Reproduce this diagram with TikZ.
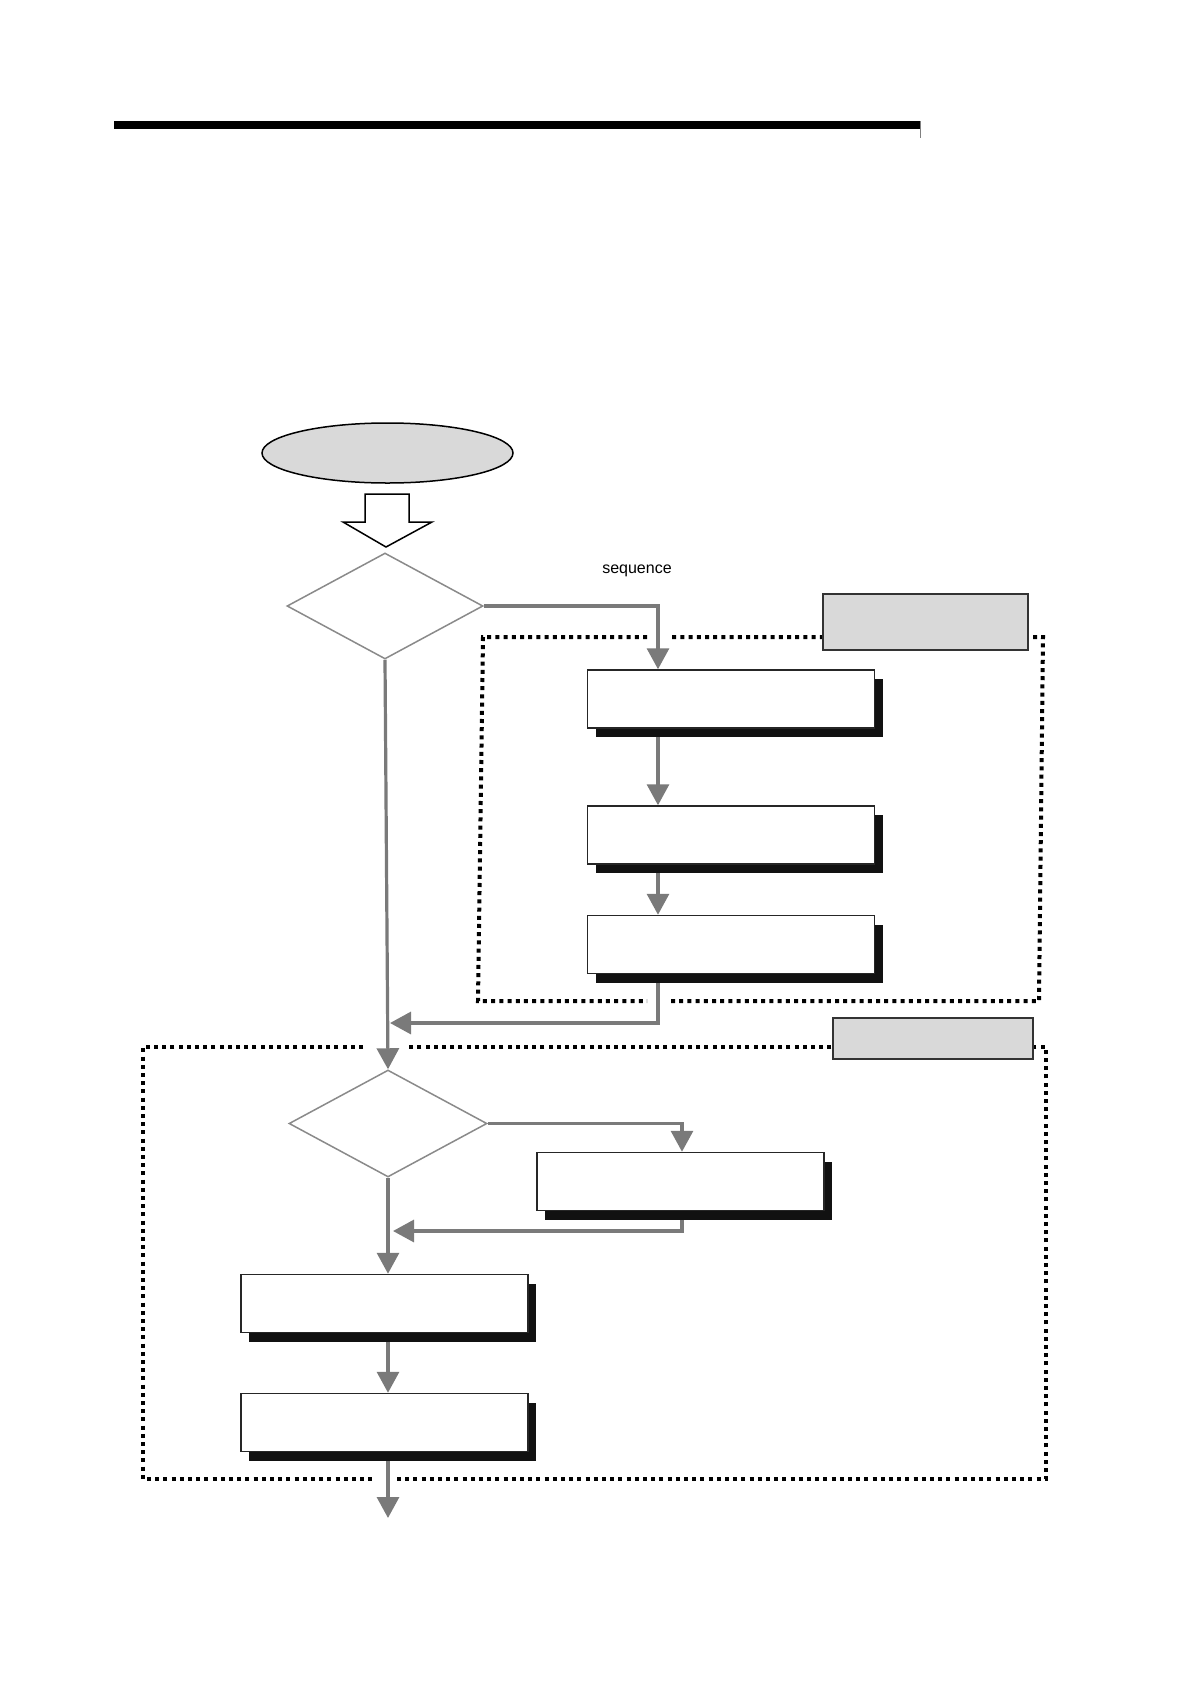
\documentclass[tikz,border=0pt]{standalone}
\usepackage{fontspec}
\setmainfont{Liberation Sans}
\usetikzlibrary{shapes.geometric,arrows.meta,shadows}
\definecolor{conngray}{HTML}{7A7A7A}
\definecolor{dgray}{HTML}{8A8A8A}
\definecolor{lblfill}{HTML}{D9D9D9}
\definecolor{shadowblk}{HTML}{111111}
\pgfdeclarelayer{bg}
\pgfsetlayers{bg,main}
\begin{document}
\begin{tikzpicture}[x=1pt,y=-1pt,
  stepbox/.style={draw=black!85, line width=1.5pt, fill=white, inner sep=0pt,
    minimum width=287pt, minimum height=58pt,
    drop shadow={shadow xshift=8pt, shadow yshift=-9pt, fill=shadowblk, opacity=1}},
  decision/.style={diamond, draw=dgray, line width=1.5pt, fill=white, inner sep=0pt,
    minimum width=196pt, minimum height=106pt},
  lblbox/.style={draw=black!80, line width=1.5pt, fill=lblfill, inner sep=0pt},
  conn/.style={draw=conngray, line width=3.2pt, -{Triangle[width=22pt,length=21pt]}},
  dotline/.style={draw=black, line width=4pt, dash pattern=on 4pt off 4.2pt},
]
\useasboundingbox (0,0) rectangle (1190,1684);

% header bar
\fill[black] (114,121) rectangle (920,129);
\draw[gray, line width=0.6pt] (920,121) -- (920,138);

% dotted groups
\draw[dotline] (647,637) -- (483,637) -- (478,1001) -- (647,1001);
\draw[dotline] (671,1001) -- (1039,1001) -- (1043,637) -- (671,637);
\draw[dotline] (363,1047) -- (143,1047) -- (143,1479) -- (373,1479);
\draw[dotline] (397,1479) -- (1046,1479) -- (1046,1047) -- (407,1047);

% label boxes
\node[lblbox, minimum width=205pt, minimum height=56pt] (lab1) at (925.5,622) {};
\node[lblbox, minimum width=200pt, minimum height=41pt] (lab2) at (933,1038.5) {};

% start ellipse
\node[ellipse, draw=black, line width=1.5pt, fill=lblfill, minimum width=251pt, minimum height=60pt, inner sep=0pt] (start) at (387.5,453) {};

% hollow arrow
\draw[black, line width=1.5pt, fill=white, line join=miter]
  (365,494) -- (409,494) -- (409,522) -- (432,522) -- (386,547) -- (343,522) -- (365,522) -- cycle;

% decisions
\node[decision] (d1) at (385,606) {};
\node[decision, minimum width=198pt, minimum height=107pt] (d2) at (388,1123.5) {};

% text
\node[anchor=base, font=\fontsize{16}{19}\selectfont, inner sep=0pt] (seq) at (637,573) {sequence};

% boxes
\node[stepbox] (bA) at (731,699) {};
\node[stepbox] (bB) at (731,835) {};
\node[stepbox] (bC) at (731,944.5) {};
\node[stepbox] (bD) at (680.5,1181.5) {};
\node[stepbox] (bE) at (384.5,1303.5) {};
\node[stepbox] (bF) at (384.5,1422.5) {};

% column coordinates
\coordinate (colA) at (658,0);
\coordinate (colD) at (682,0);
\coordinate (ret1) at (390,1023);
\coordinate (ret2) at (393,1231);
\coordinate (fin) at (388,1518);

% connectors (behind the boxes and their shadows)
\begin{pgfonlayer}{bg}
\draw[conn] (d1.east) -| (bA.north -| colA);
\draw[conn] (bA.south -| colA) -- (bB.north -| colA);
\draw[conn] (bB.south -| colA) -- (bC.north -| colA);
\draw[conn] (bC.south -| colA) |- (ret1);
\draw[conn] (d1.south) -- (d2.north);
\draw[conn] (d2.east) -| (bD.north -| colD);
\draw[conn] (bD.south -| colD) |- (ret2);
\draw[conn] (d2.south) -- (bE.north -| d2.south);
\draw[conn] (bE.south -| d2.south) -- (bF.north -| d2.south);
\draw[conn] (bF.south -| d2.south) -- (fin);
\end{pgfonlayer}
\end{tikzpicture}
\end{document}
